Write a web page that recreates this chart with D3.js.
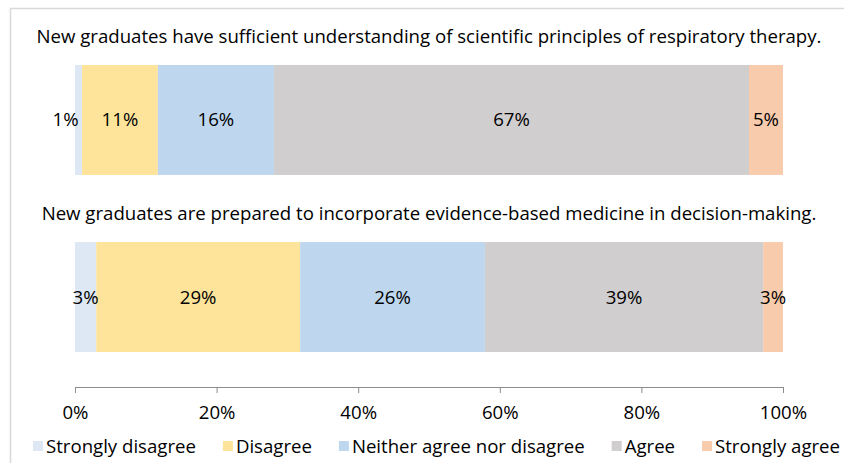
<!DOCTYPE html>
<html>
<head>
<meta charset="utf-8">
<script src="https://cdn.jsdelivr.net/npm/d3@7"></script>
<style>
  html, body { margin: 0; padding: 0; background: #fff; }
  svg { display: block; font-family: "Open Sans", sans-serif; }
</style>
</head>
<body>
<div id="chart"></div>
<script>
const categories = [
  'New graduates have sufficient understanding of scientific principles of respiratory therapy.',
  'New graduates are prepared to incorporate evidence-based medicine in decision-making.'
];
const responses = ['Strongly disagree', 'Disagree', 'Neither agree nor disagree', 'Agree', 'Strongly agree'];
const stronglyDisagree = [1.0, 3.0];
const disagree = [10.7, 28.8];
const neither = [16.4, 26.1];
const agree = [67.1, 39.3];
const stronglyAgree = [4.8, 2.8];
const xTicks = [0, 20, 40, 60, 80, 100];
const colors = ['#dde8f4', '#fee49a', '#bed7ee', '#d0cecf', '#f8cbad'];
const titleText = 'Figure 4. New graduates\u2019 preparation in scientific principles';

const width = 844, height = 463;

// table built from the series arrays
const rows = categories.map((c, i) => {
  const r = { cat: c };
  [stronglyDisagree, disagree, neither, agree, stronglyAgree].forEach((s, j) => (r[responses[j]] = s[i]));
  return r;
});
const series = d3.stack().keys(responses)(rows);

const svg = d3.select('#chart').append('svg').attr('width', width).attr('height', height);

// chart frame (clipped by the window)
svg.append('rect')
  .attr('x', 10.5).attr('y', 8.5)
  .attr('width', 900).attr('height', 500)
  .attr('fill', 'none').attr('stroke', '#d9d9d9').attr('stroke-width', 1.5);

// title, mostly above the visible area
svg.append('text')
  .attr('x', -6).attr('y', -6)
  .attr('font-size', 24).attr('font-weight', 'bold')
  .attr('fill', '#000')
  .text(titleText);

// pick a font size so the first question spans like the reference
const probe = svg.append('text').attr('font-size', 16).text(categories[0]);
const fs = 16 * 785 / probe.node().getComputedTextLength();
probe.remove();

const x = d3.scaleLinear().domain([0, 100]).range([75, 783]);
const y = d3.scaleBand().domain(categories).range([65, 352]).paddingInner(0.379).paddingOuter(0);

// questions above the bars
svg.append('g').selectAll('text')
  .data(categories)
  .join('text')
  .attr('x', (x(0) + x(100)) / 2)
  .attr('y', d => y(d) - 29)
  .attr('dy', '0.35em')
  .attr('text-anchor', 'middle')
  .attr('font-size', fs)
  .attr('fill', '#000')
  .text(d => d);

const layer = svg.append('g').selectAll('g')
  .data(series)
  .join('g')
  .attr('fill', (d, i) => colors[i]);

layer.selectAll('rect')
  .data(d => d)
  .join('rect')
  .attr('x', d => x(d[0]))
  .attr('y', d => y(d.data.cat))
  .attr('width', d => x(d[1]) - x(d[0]))
  .attr('height', y.bandwidth());

// value labels
svg.append('g').selectAll('g')
  .data(series)
  .join('g')
  .selectAll('text')
  .data(d => d)
  .join('text')
  .attr('x', d => x((d[0] + d[1]) / 2))
  .attr('y', d => y(d.data.cat) + y.bandwidth() / 2)
  .attr('dy', '0.35em')
  .attr('text-anchor', d => (d[1] - d[0] < 2 ? 'end' : 'middle'))
  .attr('font-size', fs)
  .attr('fill', '#000')
  .text(d => Math.round(d[1] - d[0]) + '%');

// x axis
const axis = svg.append('g')
  .attr('transform', 'translate(0,387)')
  .call(d3.axisBottom(x).tickValues(xTicks).tickFormat(d => d + '%').tickSize(6).tickSizeOuter(6));
axis.select('.domain').attr('stroke', '#8c8c8c');
axis.selectAll('.tick line').attr('stroke', '#8c8c8c');
axis.selectAll('.tick text')
  .attr('font-size', fs)
  .attr('font-family', '"Open Sans", sans-serif')
  .attr('fill', '#000')
  .attr('y', 25)
  .attr('dy', '0.35em');

// legend
const legend = svg.append('g');
const items = legend.selectAll('g')
  .data(responses)
  .join('g');
items.append('rect')
  .attr('width', 10).attr('height', 10)
  .attr('y', 441)
  .attr('fill', (d, i) => colors[i]);
items.append('text')
  .attr('x', 13)
  .attr('y', 446)
  .attr('dy', '0.35em')
  .attr('font-size', fs)
  .attr('fill', '#000')
  .text(d => d);

const widths = items.nodes().map(n => 13 + d3.select(n).select('text').node().getComputedTextLength());
const gap = (840 - 33 - d3.sum(widths)) / (responses.length - 1);
let pos = 33;
items.attr('transform', (d, i) => {
  const t = `translate(${pos},0)`;
  pos += widths[i] + gap;
  return t;
});
</script>
</body>
</html>
